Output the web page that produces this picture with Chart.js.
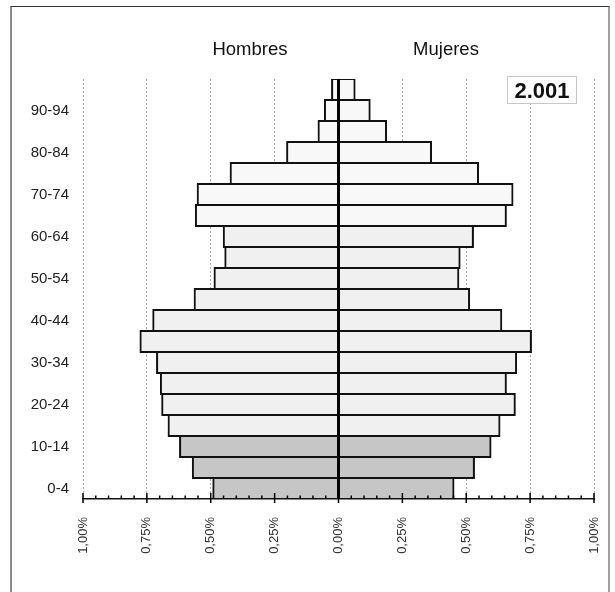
<!DOCTYPE html>
<html>
<head>
<meta charset="utf-8">
<script src="https://cdn.jsdelivr.net/npm/chart.js@4/dist/chart.umd.min.js"></script>
<style>
  body { margin: 0; background: #fff; font-family: "Liberation Sans", Arial, sans-serif; }
  #wrap { position: relative; width: 615px; height: 592px; overflow: hidden; }
  #frame { position: absolute; left: 10px; top: 6px; width: 596px; height: 700px;
    border-top: 1px solid #333; border-left: 2px solid #8a8a8a; border-right: 2px solid #a0a0a0; }
  #chart { position: absolute; left: 0; top: 0; }
  .head { position: absolute; top: 40px; width: 120px; text-align: center;
    font-size: 18.5px; line-height: 1; color: #111; }
  #year { position: absolute; left: 507px; top: 76px; width: 68px; height: 26px;
    border: 1px solid #c8c8c8; background: #fff; text-align: center;
    font-weight: bold; font-size: 22px; line-height: 27px; color: #111; }
</style>
</head>
<body>
<div id="wrap">
  <div id="frame"></div>
  <canvas id="chart" width="615" height="592"></canvas>
  <div class="head" style="left:190px">Hombres</div>
  <div class="head" style="left:386px">Mujeres</div>
  <div id="year">2.001</div>
</div>
<script>
// Age groups, youngest first
const ageGroups = ['0-4', '5-9', '10-14', '15-19', '20-24', '25-29', '30-34', '35-39', '40-44', '45-49',
  '50-54', '55-59', '60-64', '65-69', '70-74', '75-79', '80-84', '85-89', '90-94', '95-99'];

// Share of total population (%)
const hombres = [0.49, 0.57, 0.62, 0.665, 0.69, 0.695, 0.71, 0.775, 0.725, 0.563,
  0.485, 0.443, 0.449, 0.558, 0.551, 0.422, 0.201, 0.078, 0.053, 0.025];
const mujeres = [0.45, 0.53, 0.595, 0.63, 0.69, 0.655, 0.695, 0.753, 0.637, 0.511,
  0.469, 0.474, 0.526, 0.655, 0.681, 0.546, 0.362, 0.186, 0.122, 0.063];

const axisMax = 1;
const majorStep = 0.25;
const minorStep = 0.05;

// fill by age band: children, working age, elderly
function barColor(ctx) {
  const i = ctx.dataIndex;
  if (i < 3) return '#c6c6c6';
  if (i < 13) return '#f0f0f0';
  return '#f8f8f8';
}

function fmtPct(v) {
  return Math.abs(v).toFixed(2).replace('.', ',') + '%';
}

const barStyle = {
  backgroundColor: barColor,
  borderColor: '#111',
  borderWidth: 2,
  borderSkipped: false,
  inflateAmount: 1,
  barPercentage: 1,
  categoryPercentage: 1
};

// center line and axis tick marks
const pyramidPlugin = {
  id: 'pyramid',
  afterDatasetsDraw(chart) {
    const { ctx, chartArea, scales: { x } } = chart;
    const x0 = x.getPixelForValue(0);
    ctx.save();
    ctx.strokeStyle = '#000';
    ctx.lineWidth = 2.5;
    ctx.beginPath();
    ctx.moveTo(x0, chartArea.top);
    ctx.lineTo(x0, chartArea.bottom);
    ctx.stroke();

    const yAxis = chartArea.bottom;
    ctx.lineWidth = 1.5;
    const n = Math.round(2 * axisMax / minorStep);
    for (let k = 0; k <= n; k++) {
      const v = -axisMax + k * minorStep;
      const px = x.getPixelForValue(v);
      const major = k % Math.round(majorStep / minorStep) === 0;
      ctx.beginPath();
      ctx.moveTo(px, major ? yAxis - 6 : yAxis - 3.5);
      ctx.lineTo(px, major ? yAxis + 4 : yAxis);
      ctx.stroke();
    }
    ctx.restore();
  }
};

new Chart(document.getElementById('chart'), {
  type: 'bar',
  data: {
    labels: ageGroups,
    datasets: [
      { label: 'Hombres', data: hombres.map(v => -v), ...barStyle },
      { label: 'Mujeres', data: mujeres, ...barStyle }
    ]
  },
  options: {
    indexAxis: 'y',
    responsive: false,
    animation: false,
    layout: { padding: { top: 79, right: 21, left: 0, bottom: 0 } },
    plugins: {
      colors: { enabled: false },
      legend: { display: false },
      tooltip: { enabled: false }
    },
    scales: {
      x: {
        stacked: true,
        min: -axisMax,
        max: axisMax,
        afterFit(scale) {
          scale.height = 93;
          scale.paddingLeft = 0;
          scale.paddingRight = 0;
        },
        ticks: {
          stepSize: majorStep,
          minRotation: 90,
          maxRotation: 90,
          padding: 18,
          color: '#333',
          font: { family: '"Liberation Sans", Arial, sans-serif', size: 13 },
          callback: v => fmtPct(v)
        },
        grid: { color: '#a8a8a8', lineWidth: 1, drawTicks: false },
        border: { display: true, color: '#111', width: 1.5, dash: [2, 2] }
      },
      y: {
        stacked: true,
        reverse: true,
        afterFit(scale) { scale.width = 83; },
        grid: { display: false, drawTicks: false },
        border: { display: false },
        ticks: {
          autoSkip: false,
          padding: 14,
          color: '#222',
          font: { family: '"Liberation Sans", Arial, sans-serif', size: 15 },
          callback: function (v, i) { return i % 2 === 0 ? ageGroups[i] : ''; }
        }
      }
    }
  },
  plugins: [pyramidPlugin]
});
</script>
</body>
</html>
